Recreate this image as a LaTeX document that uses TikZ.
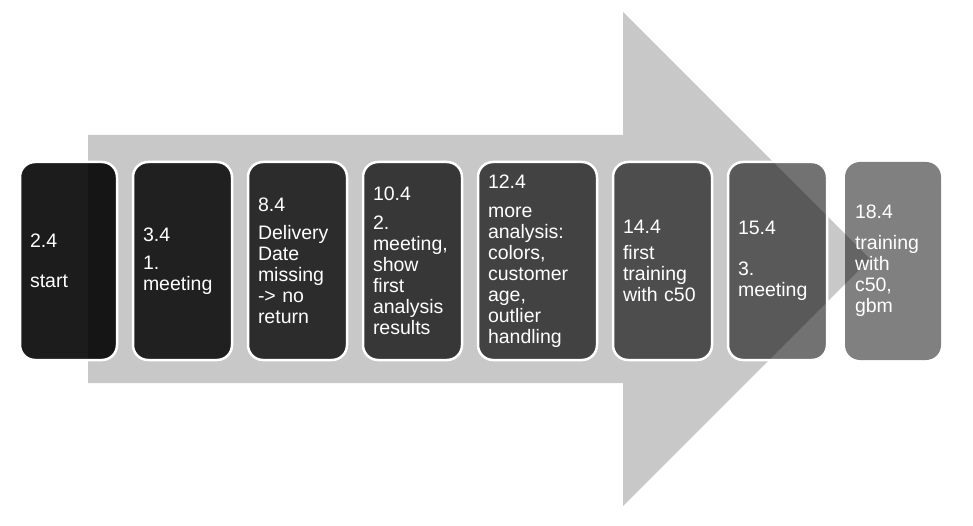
\documentclass[tikz,border=0pt]{standalone}
\usepackage{fontspec}
\setmainfont{Liberation Sans}
\definecolor{arrowgray}{RGB}{200,200,200}
\begin{document}
\begin{tikzpicture}[x=1pt,y=-1pt,
  box/.style={rounded corners=15pt, fill=black, draw=white, line width=2.5pt,
    minimum height=198pt, inner xsep=10pt, inner ysep=0pt, align=left,
    text=white, text opacity=1, font=\fontsize{19.5}{21}\selectfont, anchor=center},
  bigarrow/.style={fill=arrowgray, draw=none}
]
\useasboundingbox (0,0) rectangle (973,526);
\path[bigarrow] (88,135) -- (623,135) -- (623,12) -- (870,259) -- (623,506) -- (623,383) -- (88,383) -- cycle;
\node[box, fill opacity=0.89, minimum width=97pt, text width=77pt] (b1) at (68.5,261) {2.4\\[19pt]start};
\node[box, fill opacity=0.834, minimum width=99pt, text width=79pt] (b2) at (182.5,261) {3.4\\[7pt]1.\\meeting};
\node[box, fill opacity=0.778, minimum width=99pt, text width=79pt] (b3) at (297.5,261) {8.4\\[7pt]Delivery\\Date\\missing\\-> no\\return};
\node[box, fill opacity=0.722, minimum width=99pt, text width=79pt] (b4) at (412.5,261) {10.4\\[8pt]2.\\meeting,\\show\\first\\analysis\\results};
\node[box, fill opacity=0.666, minimum width=119pt, text width=99pt] (b5) at (537.5,261) {12.4\\[8pt]more\\analysis:\\colors,\\customer\\age,\\outlier\\handling};
\node[box, fill opacity=0.61, minimum width=99pt, text width=79pt] (b6) at (662.5,261) {14.4\\[5pt]first\\training\\with c50};
\node[box, fill opacity=0.554, minimum width=99pt, text width=79pt] (b7) at (777.5,261) {15.4\\[20pt]3.\\meeting};
\node[box, fill opacity=0.498, draw=none, minimum width=96pt, text width=76pt] (b8) at (893,261) {18.4\\[10pt]training\\with\\c50,\\gbm};
\end{tikzpicture}
\end{document}
